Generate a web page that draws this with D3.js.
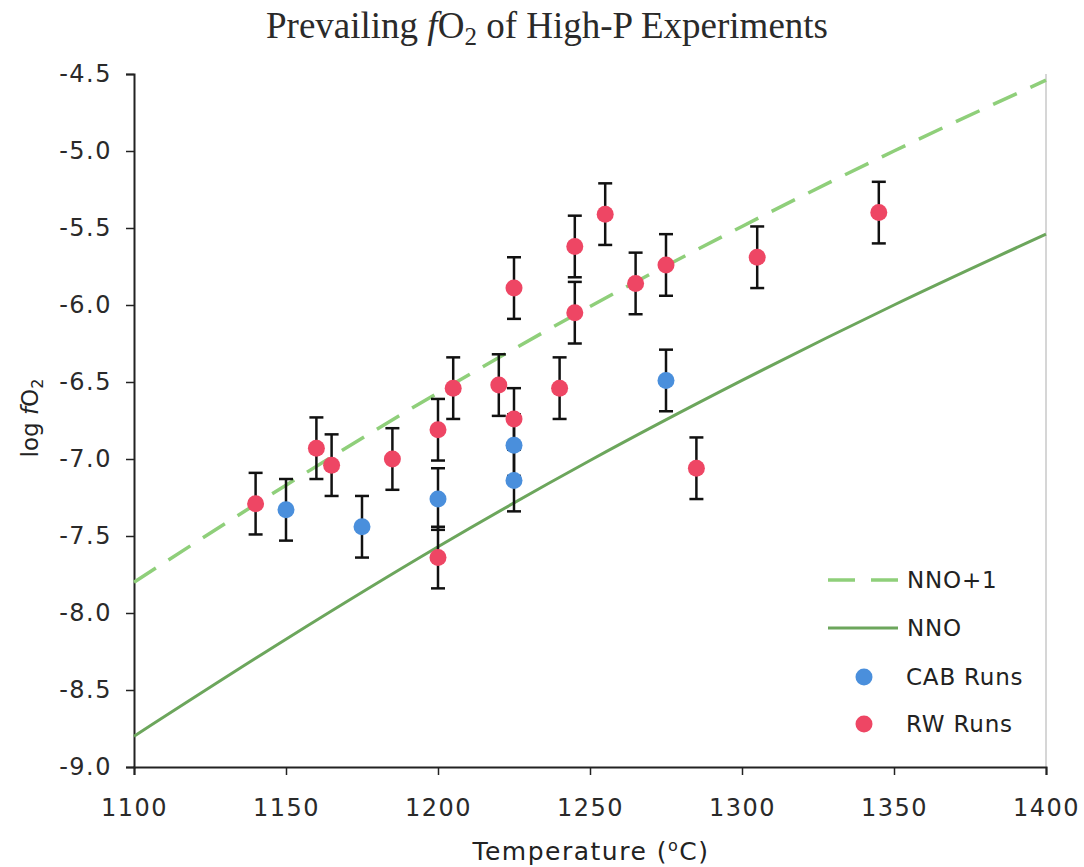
<!DOCTYPE html>
<html>
<head>
<meta charset="utf-8">
<script src="https://cdn.jsdelivr.net/npm/d3@7"></script>
<style>
  body { margin: 0; background: #fff; }
  text { fill: #222; }
</style>
</head>
<body>
<div id="chart"></div>
<script>
// values
var xTicks = [1100, 1150, 1200, 1250, 1300, 1350, 1400];
var yTicks = [-9.0, -8.5, -8.0, -7.5, -7.0, -6.5, -6.0, -5.5, -5.0, -4.5];

// buffer curves
var bufferTemp = [1100, 1150, 1200, 1250, 1300, 1350, 1400];
var nnoLogfO2 = [-8.80, -8.17, -7.57, -7.01, -6.49, -6.00, -5.54];
var nno1LogfO2 = [-7.80, -7.17, -6.57, -6.01, -5.49, -5.00, -4.54];

// CAB runs
var cabTemp = [1150, 1175, 1200, 1225, 1225, 1275];
var cabLogfO2 = [-7.33, -7.44, -7.26, -6.91, -7.14, -6.49];

// RW runs
var rwTemp = [1140, 1160, 1165, 1185, 1200, 1200, 1205, 1220, 1225, 1225, 1240, 1245, 1245, 1255, 1265, 1275, 1285, 1305, 1345];
var rwLogfO2 = [-7.29, -6.93, -7.04, -7.00, -6.81, -7.64, -6.54, -6.52, -5.89, -6.74, -6.54, -5.62, -6.05, -5.41, -5.86, -5.74, -7.06, -5.69, -5.40];

var errBar = 0.2;

var chartW = 1084, chartH = 867;
var plotL = 134, plotR = 1046, plotT = 74, plotB = 767;
var red = "#ee4664", blue = "#4a8fdc";
var nnoColor = "#6ca65c", nno1Color = "#8fcf7a";
var sans = "'DejaVu Sans', Verdana, sans-serif";

var svg = d3.select("#chart").append("svg")
    .attr("width", chartW).attr("height", chartH);

var x = d3.scaleLinear().domain([1100, 1400]).range([plotL, plotR]);
var y = d3.scaleLinear().domain([-9, -4.5]).range([plotB, plotT]);

//---------------------------------------------------------------------
// title
var title = svg.append("text")
    .attr("x", 547).attr("y", 38)
    .attr("text-anchor", "middle")
    .style("font-family", "'Liberation Serif', 'DejaVu Serif', serif")
    .style("font-size", "37px").style("fill", "#2a2a2a");
title.append("tspan").text("Prevailing ");
title.append("tspan").style("font-style", "italic").text("f");
title.append("tspan").text("O");
title.append("tspan").attr("dy", 7).style("font-size", "25px").text("2");
title.append("tspan").attr("dy", -7).text(" of High-P Experiments");

// right border of the plot area
svg.append("line")
    .attr("x1", plotR).attr("x2", plotR).attr("y1", plotT).attr("y2", plotB)
    .style("stroke", "#c8c8c8").style("stroke-width", 1.5);

//---------------------------------------------------------------------
// axes
var yAxis = svg.append("g")
    .attr("transform", "translate(" + plotL + ",0)")
    .call(d3.axisLeft(y).tickValues(yTicks).tickSize(8).tickPadding(14)
        .tickFormat(function(d){ return d.toFixed(1); }));

var xAxis = svg.append("g")
    .attr("transform", "translate(0," + plotB + ")")
    .call(d3.axisBottom(x).tickValues(xTicks).tickSize(8).tickPadding(24)
        .tickFormat(function(d){ return d; }));

[xAxis, yAxis].forEach(function(a){
    a.select(".domain").style("stroke", "#222").style("stroke-width", 2);
    a.selectAll(".tick line").style("stroke", "#222").style("stroke-width", 1.5);
    a.selectAll(".tick text")
        .style("font-family", sans)
        .style("font-size", "24px").style("letter-spacing", "1.5px")
        .style("fill", "#2a2a2a");
});

// axis titles
var xTitle = svg.append("text")
    .attr("x", 591).attr("y", 860)
    .attr("text-anchor", "middle")
    .style("font-family", sans)
    .style("font-size", "25px").style("letter-spacing", "1.5px");
xTitle.append("tspan").text("Temperature (");
xTitle.append("tspan").attr("dy", -9).style("font-size", "16px").text("o");
xTitle.append("tspan").attr("dy", 9).text("C)");

var yTitle = svg.append("text")
    .attr("transform", "translate(38,418) rotate(-90)")
    .attr("text-anchor", "middle")
    .style("font-family", sans)
    .style("font-size", "23px");
yTitle.append("tspan").text("log ");
yTitle.append("tspan").style("font-style", "italic").text("f");
yTitle.append("tspan").text("O");
yTitle.append("tspan").attr("dy", 5).style("font-size", "16px").text("2");

//---------------------------------------------------------------------
// buffer lines
var line = d3.line().curve(d3.curveMonotoneX)
    .x(function(d){ return x(d[0]); })
    .y(function(d){ return y(d[1]); });

svg.append("path")
    .attr("d", line(d3.zip(bufferTemp, nnoLogfO2)))
    .style("fill", "none").style("stroke", nnoColor).style("stroke-width", 3);

svg.append("path")
    .attr("d", line(d3.zip(bufferTemp, nno1LogfO2)))
    .style("fill", "none").style("stroke", nno1Color).style("stroke-width", 3.5)
    .style("stroke-dasharray", "26,15");

//---------------------------------------------------------------------
// error bars, drawn under the dots
var paintBars = function(temps, vals){
    var pts = d3.zip(temps, vals);
    var g = svg.append("g");
    pts.forEach(function(p){
        var cx = x(p[0]);
        var y1 = y(p[1] + errBar), y2 = y(p[1] - errBar);
        g.append("line").attr("x1", cx).attr("x2", cx).attr("y1", y1).attr("y2", y2)
            .style("stroke", "#111").style("stroke-width", 2.5);
        [y1, y2].forEach(function(cy){
            g.append("line").attr("x1", cx - 7).attr("x2", cx + 7).attr("y1", cy).attr("y2", cy)
                .style("stroke", "#111").style("stroke-width", 2.5);
        });
    });
    return pts;
};

var paintDots = function(pts, color){
    svg.append("g").selectAll("circle").data(pts).enter().append("circle")
        .attr("cx", function(d){ return x(d[0]); })
        .attr("cy", function(d){ return y(d[1]); })
        .attr("r", 8.5)
        .style("fill", color);
};

var cabPts = paintBars(cabTemp, cabLogfO2);
var rwPts = paintBars(rwTemp, rwLogfO2);
paintDots(cabPts, blue);
paintDots(rwPts, red);

//---------------------------------------------------------------------
// legend
var legend = svg.append("g")
    .style("font-family", sans)
    .style("font-size", "23px").style("letter-spacing", "0.8px");

legend.append("line").attr("x1", 828).attr("x2", 898).attr("y1", 580).attr("y2", 580)
    .style("stroke", nno1Color).style("stroke-width", 3.5).style("stroke-dasharray", "27,16");
legend.append("text").attr("x", 907).attr("y", 588).text("NNO+1");

legend.append("line").attr("x1", 828).attr("x2", 898).attr("y1", 628).attr("y2", 628)
    .style("stroke", nnoColor).style("stroke-width", 3);
legend.append("text").attr("x", 907).attr("y", 636).text("NNO");

legend.append("circle").attr("cx", 864).attr("cy", 677).attr("r", 8.5).style("fill", blue);
legend.append("text").attr("x", 906).attr("y", 685).text("CAB Runs");

legend.append("circle").attr("cx", 864).attr("cy", 724).attr("r", 8.5).style("fill", red);
legend.append("text").attr("x", 906).attr("y", 732).text("RW Runs");
</script>
</body>
</html>
